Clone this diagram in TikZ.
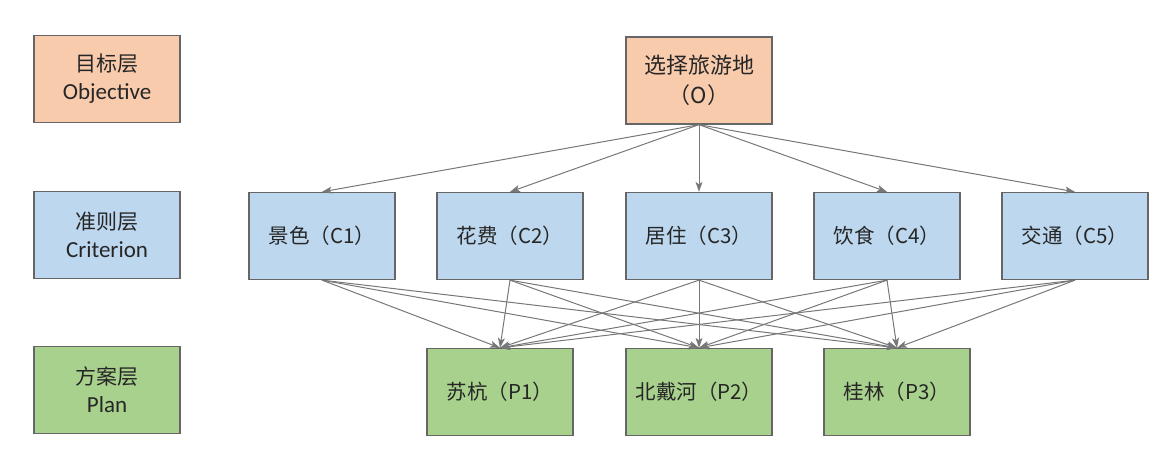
\documentclass[tikz,border=0pt]{standalone}
\usepackage{fontspec}
\setmainfont{Carlito}
\newfontfamily\cjk{Noto Sans CJK SC}
\usetikzlibrary{arrows.meta}
\definecolor{ora}{HTML}{F8CBAD}
\definecolor{blu}{HTML}{BDD7EE}
\definecolor{gre}{HTML}{A9D18E}
\definecolor{edg}{HTML}{666666}
\definecolor{arr}{HTML}{777777}
\begin{document}
\begin{tikzpicture}[x=1pt,y=-1pt,
  box/.style={draw=edg,line width=1.3pt,minimum width=146pt,minimum height=87pt,inner sep=0pt,align=center,text=black!85},
  lay/.style={box,font=\fontsize{23}{28}\selectfont},
  lcjk/.style={font=\cjk\fontsize{21}{28}\selectfont},
  cbox/.style={box,fill=blu,font=\cjk\fontsize{20.5}{24}\selectfont},
  pbox/.style={box,fill=gre,font=\cjk\fontsize{20.5}{24}\selectfont},
  con/.style={draw=arr,line width=1pt,-{Stealth[length=10pt,width=7pt,inset=2.5pt]}}]
\useasboundingbox (0,0) rectangle (1173,471);
\node[lay,fill=ora] (L1) at (107,79) {{\cjk\fontsize{21}{28}\selectfont 目标层}\\Objective};
\node[lay,fill=blu] (L2) at (107,235) {{\cjk\fontsize{21}{28}\selectfont 准则层}\\Criterion};
\node[lay,fill=gre] (L3) at (107,390) {{\cjk\fontsize{21}{28}\selectfont 方案层}\\Plan};
\node[box,fill=ora,font=\cjk\fontsize{22}{30}\selectfont] (O) at (699,80.5) {选择旅游地\\（O）};
\node[cbox] (C1) at (322,236) {景色（C1）};
\node[cbox] (C2) at (510,236) {花费（C2）};
\node[cbox] (C3) at (699,236) {居住（C3）};
\node[cbox] (C4) at (887,236) {饮食（C4）};
\node[cbox] (C5) at (1075,236) {交通（C5）};
\node[pbox] (P1) at (500,392) {苏杭（P1）};
\node[pbox] (P2) at (699,392) {北戴河（P2）};
\node[pbox] (P3) at (897,392) {桂林（P3）};
\foreach \c in {C1,C2,C3,C4,C5}{
  \draw[con] (O.south) -- (\c.north);
  \foreach \p in {P1,P2,P3}{
    \draw[con] (\c.south) -- (\p.north);
  }
}
\end{tikzpicture}
\end{document}
